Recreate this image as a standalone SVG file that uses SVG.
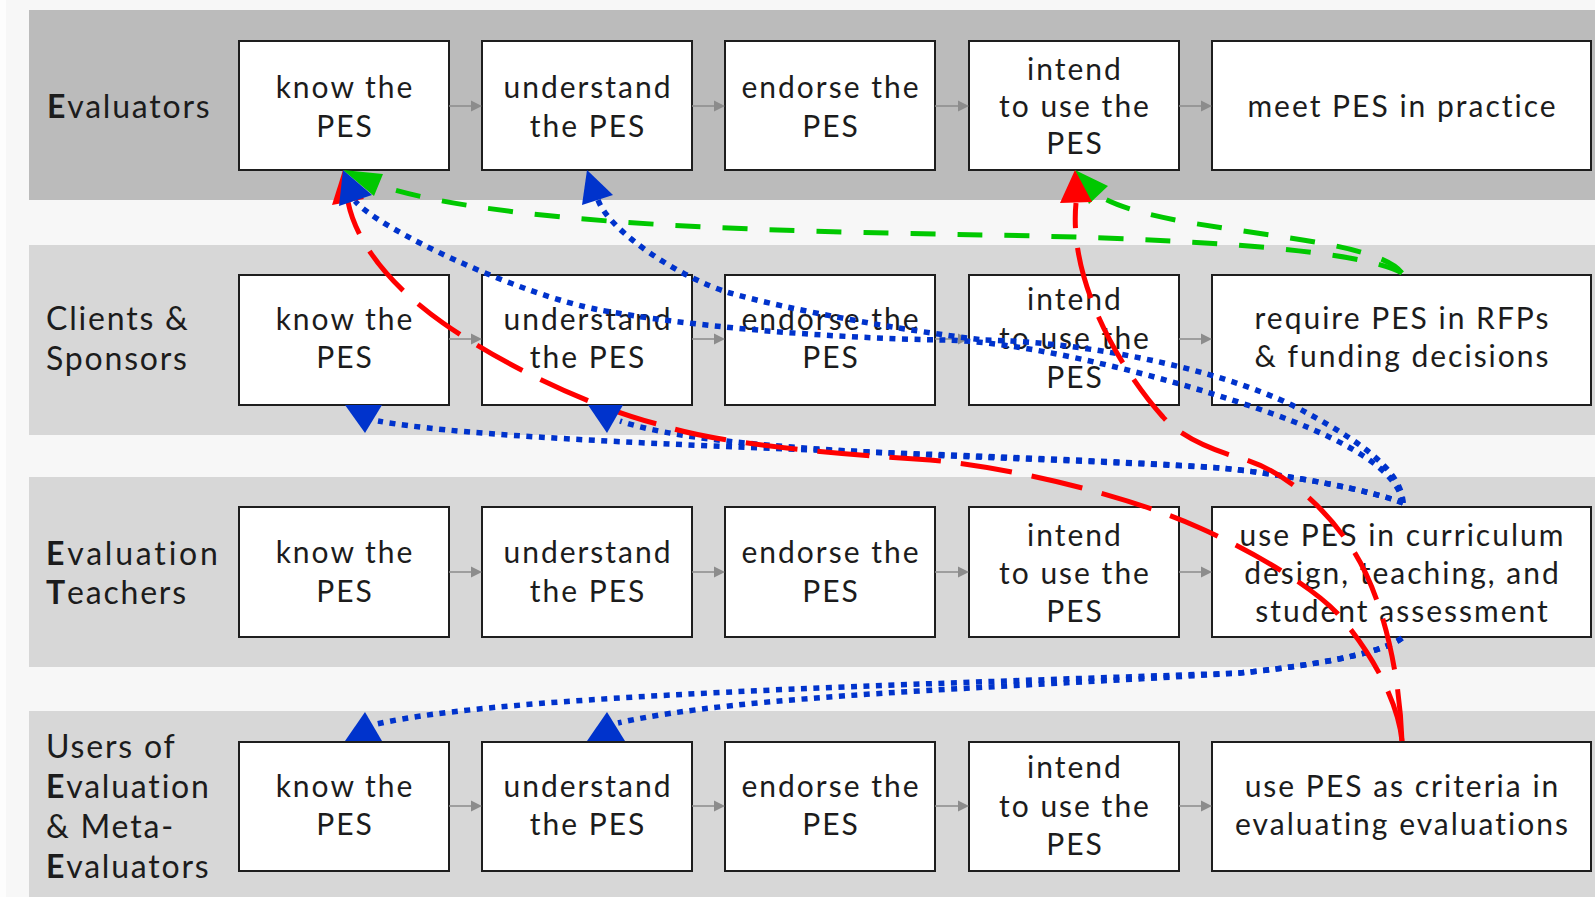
<svg xmlns="http://www.w3.org/2000/svg" width="1595" height="897" viewBox="0 0 1595 897">
<style>
.bg{fill:#f7f7f7}
.edge{fill:#fdfdfd}
.band1{fill:#bbbbbb}
.band{fill:#d7d7d7}
.box{fill:#ffffff;stroke:#1e1e1e;stroke-width:2}
.t{font-family:Lato,"Open Sans",sans-serif;font-size:30px;fill:#1c1c1c;text-anchor:middle;letter-spacing:2px}
.lab{font-family:Lato,"Open Sans",sans-serif;font-size:32px;fill:#1c1c1c;letter-spacing:1.8px}
.wide{letter-spacing:2.8px}
.b{font-weight:bold}
.flow{stroke:#8c8c8c;stroke-width:1.5;fill:none}
.fh{fill:#8c8c8c}
.g{stroke:#00c800;stroke-width:5;fill:none;stroke-dasharray:25 22}
.r{stroke:#ff0000;stroke-width:5;fill:none;stroke-dasharray:52 20}
.bl{stroke:#0033cc;stroke-width:5.5;fill:none;stroke-dasharray:6 6.5}
.gh{fill:#00c800}
.rh{fill:#ff0000}
.bh{fill:#0033cc}
</style>
<rect class="bg" x="0" y="0" width="1595" height="897"/>
<rect class="edge" x="0" y="0" width="6" height="897"/>

<g id="lane-evaluators">
<rect class="band1" x="29" y="10" width="1566" height="190"/>
<text class="lab" x="47" y="118"><tspan class="b">E</tspan>valuators</text>
</g>
<g id="lane-clients">
<rect class="band" x="29" y="245" width="1566" height="190"/>
<text class="lab" x="46" y="330">Clients &amp;</text>
<text class="lab" x="46" y="370">Sponsors</text>
</g>
<g id="lane-teachers">
<rect class="band" x="29" y="477" width="1566" height="190"/>
<text class="lab wide" x="46" y="565"><tspan class="b">E</tspan>valuation</text>
<text class="lab" x="46" y="604"><tspan class="b">T</tspan>eachers</text>
</g>
<g id="lane-users">
<rect class="band" x="29" y="711" width="1566" height="186"/>
<text class="lab" x="46" y="758">Users of</text>
<text class="lab" x="46" y="798"><tspan class="b">E</tspan>valuation</text>
<text class="lab" x="46" y="838">&amp; Meta-</text>
<text class="lab" x="46" y="878"><tspan class="b">E</tspan>valuators</text>
</g>

<!-- Row 1 -->
<g id="ev-know"><rect class="box" x="239" y="41" width="210" height="129"/><text class="t"><tspan x="345" y="98">know the</tspan><tspan x="345" y="137">PES</tspan></text></g>
<g id="ev-understand"><rect class="box" x="482" y="41" width="210" height="129"/><text class="t"><tspan x="588" y="98">understand</tspan><tspan x="588" y="137">the PES</tspan></text></g>
<g id="ev-endorse"><rect class="box" x="725" y="41" width="210" height="129"/><text class="t"><tspan x="831" y="98">endorse the</tspan><tspan x="831" y="137">PES</tspan></text></g>
<g id="ev-intend"><rect class="box" x="969" y="41" width="210" height="129"/><text class="t"><tspan x="1075" y="80">intend</tspan><tspan x="1075" y="117">to use the</tspan><tspan x="1075" y="154">PES</tspan></text></g>
<g id="ev-meet"><rect class="box" x="1212" y="41" width="379" height="129"/><text class="t"><tspan x="1402.5" y="117">meet PES in practice</tspan></text></g>

<!-- Row 2 -->
<g id="cs-know"><rect class="box" x="239" y="275" width="210" height="130"/><text class="t"><tspan x="345" y="330">know the</tspan><tspan x="345" y="368">PES</tspan></text></g>
<g id="cs-understand"><rect class="box" x="482" y="275" width="210" height="130"/><text class="t"><tspan x="588" y="330">understand</tspan><tspan x="588" y="368">the PES</tspan></text></g>
<g id="cs-endorse"><rect class="box" x="725" y="275" width="210" height="130"/><text class="t"><tspan x="831" y="330">endorse the</tspan><tspan x="831" y="368">PES</tspan></text></g>
<g id="cs-intend"><rect class="box" x="969" y="275" width="210" height="130"/><text class="t"><tspan x="1075" y="310">intend</tspan><tspan x="1075" y="349">to use the</tspan><tspan x="1075" y="388">PES</tspan></text></g>
<g id="cs-require"><rect class="box" x="1212" y="275" width="379" height="130"/><text class="t"><tspan x="1402.5" y="329">require PES in RFPs</tspan><tspan x="1402.5" y="367">&amp; funding decisions</tspan></text></g>

<!-- Row 3 -->
<g id="et-know"><rect class="box" x="239" y="507" width="210" height="130"/><text class="t"><tspan x="345" y="563">know the</tspan><tspan x="345" y="602">PES</tspan></text></g>
<g id="et-understand"><rect class="box" x="482" y="507" width="210" height="130"/><text class="t"><tspan x="588" y="563">understand</tspan><tspan x="588" y="602">the PES</tspan></text></g>
<g id="et-endorse"><rect class="box" x="725" y="507" width="210" height="130"/><text class="t"><tspan x="831" y="563">endorse the</tspan><tspan x="831" y="602">PES</tspan></text></g>
<g id="et-intend"><rect class="box" x="969" y="507" width="210" height="130"/><text class="t"><tspan x="1075" y="546">intend</tspan><tspan x="1075" y="584">to use the</tspan><tspan x="1075" y="622">PES</tspan></text></g>
<g id="et-use"><rect class="box" x="1212" y="507" width="379" height="130"/><text class="t"><tspan x="1402.5" y="546">use PES in curriculum</tspan><tspan x="1402.5" y="584">design, teaching, and</tspan><tspan x="1402.5" y="622">student assessment</tspan></text></g>

<!-- Row 4 -->
<g id="um-know"><rect class="box" x="239" y="742" width="210" height="129"/><text class="t"><tspan x="345" y="797">know the</tspan><tspan x="345" y="835">PES</tspan></text></g>
<g id="um-understand"><rect class="box" x="482" y="742" width="210" height="129"/><text class="t"><tspan x="588" y="797">understand</tspan><tspan x="588" y="835">the PES</tspan></text></g>
<g id="um-endorse"><rect class="box" x="725" y="742" width="210" height="129"/><text class="t"><tspan x="831" y="797">endorse the</tspan><tspan x="831" y="835">PES</tspan></text></g>
<g id="um-intend"><rect class="box" x="969" y="742" width="210" height="129"/><text class="t"><tspan x="1075" y="778">intend</tspan><tspan x="1075" y="817">to use the</tspan><tspan x="1075" y="855">PES</tspan></text></g>
<g id="um-use"><rect class="box" x="1212" y="742" width="379" height="129"/><text class="t"><tspan x="1402.5" y="797">use PES as criteria in</tspan><tspan x="1402.5" y="835">evaluating evaluations</tspan></text></g>

<g id="connectors">
<g id="flow">
<path class="flow" d="M449,106H472M692,106H715M935,106H959M1179,106H1202"/>
<path class="fh" d="M482,106l-11,-5.5v11zM725,106l-11,-5.5v11zM969,106l-11,-5.5v11zM1212,106l-11,-5.5v11z"/>
<path class="flow" d="M449,339H472M692,339H715M935,339H959M1179,339H1202"/>
<path class="fh" d="M482,339l-11,-5.5v11zM725,339l-11,-5.5v11zM969,339l-11,-5.5v11zM1212,339l-11,-5.5v11z"/>
<path class="flow" d="M449,572H472M692,572H715M935,572H959M1179,572H1202"/>
<path class="fh" d="M482,572l-11,-5.5v11zM725,572l-11,-5.5v11zM969,572l-11,-5.5v11zM1212,572l-11,-5.5v11z"/>
<path class="flow" d="M449,806H472M692,806H715M935,806H959M1179,806H1202"/>
<path class="fh" d="M482,806l-11,-5.5v11zM725,806l-11,-5.5v11zM969,806l-11,-5.5v11zM1212,806l-11,-5.5v11z"/>
</g>
<g id="green-edges">
<path class="g" d="M1402,273 C1360,250 1200,240 1036,236 C870,232 520,232 378,185"/>
<path class="g" d="M1402,273 C1370,232 1160,235 1098,195"/>
</g>
<g id="blue-edges">
<path class="bl" d="M1403,503 C1402,468 1350,436 1307,413 C1240,375 1100,342 983,340 C900,330 790,310 730,293 C680,278 610,232 598,200"/>
<path class="bl" d="M1403,503 C1398,470 1345,443 1307,427 C1230,395 1050,342 944,340 C820,338 680,325 600,310 C520,295 380,230 355,201"/>
<path class="bl" d="M1403,503 C1370,490 1290,475 1221,468 C1000,452 520,447 378,421"/>
<path class="bl" d="M1403,503 C1370,490 1290,475 1221,468 C1000,455 720,455 620,421"/>
<path class="bl" d="M1402,638 C1380,655 1300,667 1240,673 C900,685 500,695 377,724"/>
<path class="bl" d="M1402,638 C1380,655 1300,667 1240,673 C1000,688 740,695 618,723"/>
</g>
<g id="red-edges">
<path class="r" d="M1402,741 C1400,680 1385,600 1353,550 C1330,514 1290,472 1240,458 C1215,451 1180,437 1163,417 C1125,375 1068,285 1076,203"/>
<path class="r" d="M1402,741 C1398,700 1370,650 1337,613 C1310,585 1250,550 1200,528 C1120,492 1000,466 930,460 C850,455 720,445 661,425 C600,410 510,370 443,323 C400,293 358,250 348,202"/>
</g>
<g id="arrowheads">
<polygon class="gh" points="343,170 383,174 374,196"/>
<polygon class="gh" points="1075,170 1108,186 1089,204"/>
<polygon class="rh" points="343,170 364,199 332,205"/>
<polygon class="rh" points="1075,170 1092,202 1060,203"/>
<polygon class="bh" points="343,170 339,206 372,195"/>
<polygon class="bh" points="587,170 582,205 613,195"/>
<polygon class="bh" points="345,405 382,405 365,433"/>
<polygon class="bh" points="588,405 623,405 607,433"/>
<polygon class="bh" points="345,741 382,741 365,712"/>
<polygon class="bh" points="587,741 625,741 607,712"/>
</g>
</g>
</svg>
